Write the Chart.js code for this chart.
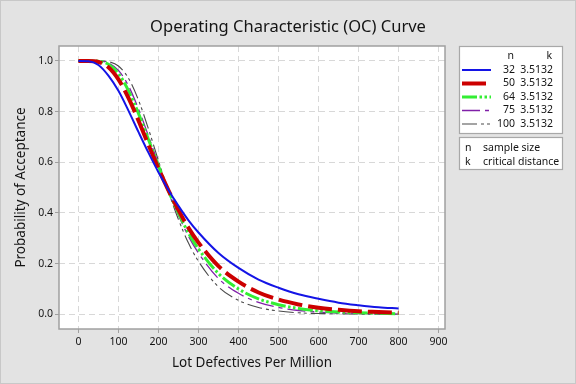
<!DOCTYPE html>
<html><head><meta charset="utf-8">
<script src="https://cdn.jsdelivr.net/npm/chart.js@4/dist/chart.umd.min.js"></script>
<style>html,body{margin:0;padding:0;background:#e3e3e3;}#wrap{width:576px;height:384px;position:relative;}</style>
</head><body><div id="wrap"><canvas id="c" width="576" height="384"></canvas></div>
<script>
// ---- data ----
const dpm = [0,25,50,75,100,125,150,175,200,225,250,275,300,350,400,450,500,550,600,650,700,750,800];
const sampleSizes = [32,50,64,75,100];
const criticalDistances = [3.5132,3.5132,3.5132,3.5132,3.5132];
const pa_n32  = [1.000,0.999,0.984,0.942,0.882,0.804,0.720,0.638,0.561,0.491,0.428,0.371,0.323,0.242,0.183,0.137,0.105,0.079,0.061,0.046,0.036,0.028,0.023];
const pa_n50  = [1.000,1.000,0.996,0.975,0.927,0.854,0.765,0.669,0.576,0.489,0.411,0.341,0.283,0.190,0.129,0.086,0.058,0.039,0.026,0.018,0.012,0.009,0.006];
const pa_n64  = [1.000,1.000,0.999,0.987,0.950,0.883,0.793,0.690,0.586,0.487,0.399,0.321,0.258,0.161,0.100,0.061,0.038,0.023,0.014,0.009,0.006,0.004,0.002];
const pa_n75  = [1.000,1.000,1.000,0.992,0.963,0.902,0.811,0.704,0.592,0.486,0.391,0.308,0.242,0.141,0.083,0.047,0.027,0.015,0.009,0.005,0.003,0.002,0.001];
const pa_n100 = [1.000,1.000,1.000,0.997,0.980,0.932,0.846,0.732,0.606,0.484,0.374,0.281,0.209,0.108,0.055,0.027,0.013,0.006,0.003,0.002,0.001,0.000,0.000];
const xTickValues = [0,100,200,300,400,500,600,700,800,900];
const yTickValues = [0,0.2,0.4,0.6,0.8,1.0];
const legendNotes = [['n','sample size'],['k','critical distance']];
const chartTitle = 'Operating Characteristic (OC) Curve';
const xTitle = 'Lot Defectives Per Million';
const yTitle = 'Probability of Acceptance';

// ---- styles ----
const seriesValues = [pa_n32, pa_n50, pa_n64, pa_n75, pa_n100];
const styles = [
  {color:'#1414e6', width:2,   dash:[]},
  {color:'#cc0000', width:4,   dash:[24,6]},
  {color:'#33ee33', width:3,   dash:[15,2.5,2.5,2.5,2.5,2.5]},
  {color:'#8020a8', width:1.3, dash:[18,5,4,5]},
  {color:'#4a4a4a', width:1.1, dash:[15,4,3,3,3,4]}
];
const FONT = "'Noto Sans', 'Open Sans', sans-serif";
const TXT = '#141414';

const datasets = seriesValues.map((vals,i)=>({
  label: 'n=' + sampleSizes[i],
  data: dpm.map((x,j)=>({x:x, y:vals[j]})),
  borderColor: styles[i].color,
  borderWidth: styles[i].width,
  borderDash: styles[i].dash,
  borderCapStyle: 'butt',
  pointRadius: 0,
  fill: false,
  cubicInterpolationMode: 'monotone'
}));

const bgPlugin = {
  id:'bg',
  beforeDraw(chart){
    const {ctx, chartArea:a} = chart;
    ctx.save();
    ctx.fillStyle = '#e3e3e3';
    ctx.fillRect(0,0,chart.width,chart.height);
    ctx.strokeStyle = '#c8c8c8'; ctx.lineWidth = 1;
    ctx.strokeRect(0.5,0.5,chart.width-1,chart.height-1);
    ctx.fillStyle = '#ffffff';
    ctx.fillRect(a.left,a.top,a.right-a.left,a.bottom-a.top);
    ctx.restore();
  },
  afterDraw(chart){
    const {ctx, chartArea:a} = chart;
    ctx.save();
    // title
    ctx.font = '16.5px ' + FONT; ctx.fillStyle = TXT; ctx.textAlign='center'; ctx.textBaseline='middle';
    ctx.fillText(chartTitle, 288, 27);
    ctx.strokeStyle = '#a0a0a0'; ctx.lineWidth = 1.5;
    ctx.strokeRect(a.left,a.top,a.right-a.left,a.bottom-a.top);
    // legend box 1
    ctx.fillStyle='#ffffff'; ctx.strokeStyle='#a8a8a8'; ctx.lineWidth=1.2;
    ctx.fillRect(459.5,46.5,103,87); ctx.strokeRect(459.5,46.5,103,87);
    ctx.font = '10.5px ' + FONT; ctx.fillStyle = TXT; ctx.textBaseline='middle'; ctx.textAlign='right';
    ctx.fillText('n',514,56); ctx.fillText('k',552,56);
    chart.data.datasets.forEach((ds,i)=>{
      const y = 70 + i*13.5;
      ctx.save();
      ctx.strokeStyle = ds.borderColor; ctx.lineWidth = ds.borderWidth; ctx.setLineDash(ds.borderDash); ctx.lineCap='butt';
      ctx.beginPath(); ctx.moveTo(462,y); ctx.lineTo(i===1?488:491,y); ctx.stroke();
      ctx.restore();
      ctx.fillStyle = TXT; ctx.textAlign='right';
      ctx.fillText(String(sampleSizes[i]),515,y);
      ctx.fillText(criticalDistances[i].toFixed(4),553,y);
    });
    // legend box 2
    ctx.fillStyle='#ffffff'; ctx.strokeStyle='#a8a8a8';
    ctx.fillRect(459.5,137.5,103,32); ctx.strokeRect(459.5,137.5,103,32);
    ctx.fillStyle = TXT; ctx.textAlign='left';
    legendNotes.forEach((n,i)=>{
      const y = 148.5 + i*13.5;
      ctx.fillText(n[0],465,y); ctx.fillText(n[1],483,y);
    });
    ctx.restore();
  }
};

Chart.defaults.font.family = FONT;
const gridOpts = {color:'#d8d8d8', lineWidth:1, tickLength:4, tickColor:'#a0a0a0', tickBorderDash:[4,0], drawTicks:true};
new Chart(document.getElementById('c'), {
  type:'line',
  data:{datasets},
  plugins:[bgPlugin],
  options:{
    responsive:false, devicePixelRatio:1, animation:false,
    layout:{padding:{left:0,right:131,top:46,bottom:0}},
    plugins:{ legend:{display:false}, tooltip:{enabled:false}, title:{display:false} },
    scales:{
      x:{
        type:'linear', min:-48.5, max:916,
        afterBuildTicks(s){ s.ticks = xTickValues.map(v=>({value:v})); },
        afterFit(s){ s.height = 55; },
        grid:gridOpts,
        border:{display:false, dash:[6,4]},
        ticks:{color:TXT, font:{size:10.5}, padding:3, maxRotation:0, callback:v=>String(v)},
        title:{display:true, text:xTitle, color:TXT, font:{size:13.5}, padding:{top:0,bottom:12.8}}
      },
      y:{
        type:'linear', min:-0.058, max:1.059,
        afterBuildTicks(s){ s.ticks = yTickValues.map(v=>({value:v})); },
        afterFit(s){ s.width = 59; },
        grid:gridOpts,
        border:{display:false, dash:[6,4]},
        ticks:{color:TXT, font:{size:10.5}, padding:2, callback:v=>Number(v).toFixed(1)},
        title:{display:true, text:yTitle, color:TXT, font:{size:13.5}, padding:{top:12.8,bottom:0}}
      }
    }
  }
});
</script></body></html>
